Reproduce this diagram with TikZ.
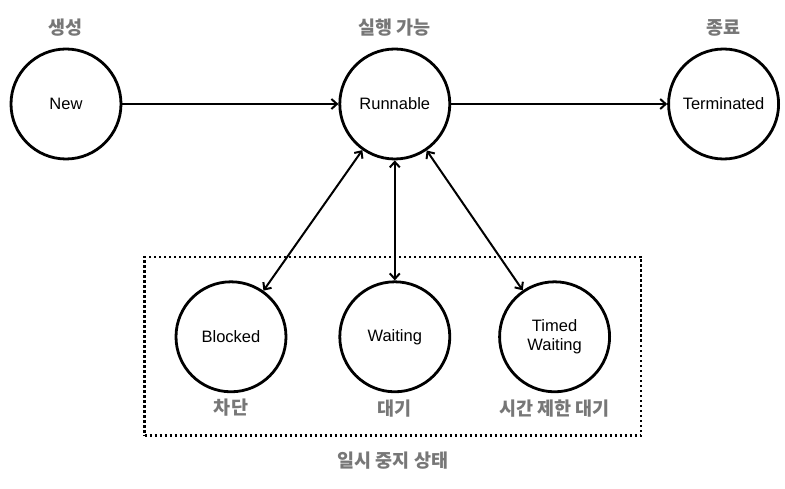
\documentclass[tikz,border=0pt]{standalone}
\usepackage{fontspec}
\setmainfont{Liberation Sans}
\newfontfamily\krfont{Noto Sans CJK KR}
\usetikzlibrary{arrows.meta,fit,positioning}
\definecolor{labelgray}{HTML}{777777}
\tikzset{
    %Define standard arrow tip
    >={Straight Barb[length=5.5pt,width=10pt,line width=2pt]},
    %Define style for states
    state/.style={
           circle,
           draw=black, line width=2.8pt,
           minimum size=110pt,
           inner sep=0pt,
           font=\fontsize{16.5}{19}\selectfont,
           align=center},
    %Define style for korean labels
    krlabel/.style={
           font=\krfont\bfseries\fontsize{18.5}{20}\selectfont,
           text=labelgray,
           inner sep=1pt},
    %Define style for the group box
    group/.style={
           draw=black,
           line width=2.6pt,
           dash pattern=on 2.6pt off 2.4pt},
    % Define arrow style
    pil/.style={
           ->,
           line width=2pt},
    bpil/.style={
           <->,
           line width=2pt}
}
\begin{document}
\begin{tikzpicture}[node distance=216pt]
\useasboundingbox (-66pt,104pt) rectangle (719pt,-385pt);
 %nodes
\node[state](new){New};
\node[state, right=of new](run){Runnable};
\node[state, right=of run](term){Terminated};
\node[state, below=120pt of run](wait){Waiting};
\node[state, left=51pt of wait](block){Blocked};
\node[state, right=47pt of wait](timed){Timed\\Waiting};

 %labels
\node[krlabel, above=10pt of new](lnew){생성};
\node[krlabel, above=10pt of run](lrun){실행 가능};
\node[krlabel, above=10pt of term](lterm){종료};
\node[krlabel, below=5pt of block](lblock){차단};
\node[krlabel, below=5pt of wait](lwait){대기};
\node[krlabel, below=5pt of timed](ltimed){시간 제한 대기};

\node[group, inner xsep=30pt, inner ysep=33pt, yshift=-9.5pt, fit=(block)(timed)](box){};
\node[krlabel, below=14pt of box](lbox){일시 중지 상태};

 %arrows
\path
    (new) edge [pil] (run)
    (run) edge [pil] (term)
    (run) edge [bpil] (block)
    (run) edge [bpil] (wait)
    (run) edge [bpil] (timed);
\end{tikzpicture}
\end{document}
